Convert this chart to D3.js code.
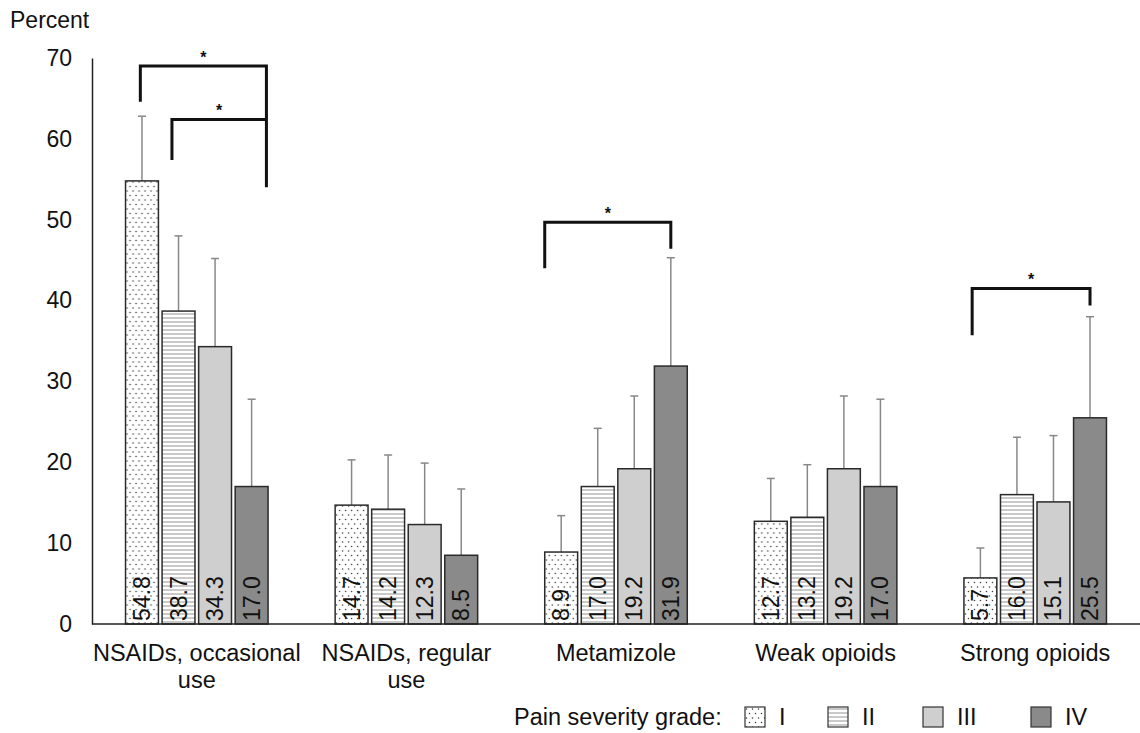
<!DOCTYPE html>
<html>
<head>
<meta charset="utf-8">
<script src="https://cdn.jsdelivr.net/npm/d3@7"></script>
<style>
  body { margin: 0; background: #fff; }
  text { font-family: "Liberation Sans", Arial, sans-serif; fill: #111; }
</style>
</head>
<body>
<div id="chart"></div>
<script>
// chart data
var categories = [["NSAIDs, occasional", "use"], ["NSAIDs, regular", "use"], ["Metamizole"], ["Weak opioids"], ["Strong opioids"]];
var grades = ["I", "II", "III", "IV"];
var values = [
    [54.8, 38.7, 34.3, 17.0],
    [14.7, 14.2, 12.3, 8.5],
    [8.9, 17.0, 19.2, 31.9],
    [12.7, 13.2, 19.2, 17.0],
    [5.7, 16.0, 15.1, 25.5]
];
var upper = [
    [62.8, 48.0, 45.2, 27.8],
    [20.3, 20.9, 19.9, 16.7],
    [13.4, 24.2, 28.2, 45.3],
    [18.0, 19.7, 28.2, 27.8],
    [9.4, 23.1, 23.3, 38.0]
];
var yTicks = [0, 10, 20, 30, 40, 50, 60, 70];
// significance brackets: group, left bar, right bar, left end, top, right end
var brackets = [
    {g: 0, b1: 0, f1: 0.45, b2: 3, f2: 0.95, y1: 64.6, top: 69.0, y2: 54.0},
    {g: 0, b1: 1, f1: 0.3, b2: 3, f2: 0.95, y1: 57.4, top: 62.4, y2: 62.4},
    {g: 2, b1: 0, f1: 0.0, b2: 3, f2: 0.5, y1: 44.0, top: 49.7, y2: 46.4},
    {g: 4, b1: 0, f1: 0.25, b2: 3, f2: 0.5, y1: 35.7, top: 41.5, y2: 39.4}
];

var W = 1140, H = 733;
var margin = {left: 92, top: 58, right: 0};
var y0px = 624;

var svg = d3.select("#chart").append("svg")
    .attr("width", W).attr("height", H);

var defs = svg.append("defs");
var dots = defs.append("pattern").attr("id", "dots")
    .attr("patternUnits", "userSpaceOnUse").attr("width", 6).attr("height", 9);
dots.append("rect").attr("width", 6).attr("height", 9).attr("fill", "#fff");
dots.append("circle").attr("cx", 1.5).attr("cy", 2).attr("r", 0.75).attr("fill", "#333");
dots.append("circle").attr("cx", 4.5).attr("cy", 6.5).attr("r", 0.75).attr("fill", "#333");
var lines = defs.append("pattern").attr("id", "hlines")
    .attr("patternUnits", "userSpaceOnUse").attr("width", 8).attr("height", 4);
lines.append("rect").attr("width", 8).attr("height", 4).attr("fill", "#fff");
lines.append("line").attr("x1", 0).attr("x2", 8).attr("y1", 2).attr("y2", 2)
    .attr("stroke", "#888").attr("stroke-width", 0.9);

var fills = ["url(#dots)", "url(#hlines)", "#cfcfcf", "#8a8a8a"];

var y = d3.scaleLinear().domain([0, 70]).range([y0px, margin.top]);
var x0 = d3.scaleBand().domain(d3.range(categories.length))
    .range([margin.left, W - margin.right]).paddingInner(0.32).paddingOuter(0.16);
var x1 = d3.scaleBand().domain(d3.range(grades.length))
    .range([0, x0.bandwidth()]).paddingInner(0.1);

// y axis
var yAxis = svg.append("g").attr("transform", "translate(" + margin.left + ",0)")
    .call(d3.axisLeft(y).tickValues(yTicks).tickSize(0).tickPadding(20));
yAxis.select(".domain").attr("stroke", "#222").attr("stroke-width", 1.5);
yAxis.selectAll("text").style("font-size", "23px").attr("font-family", "Liberation Sans, Arial, sans-serif").attr("fill", "#111");

svg.append("text").attr("x", 10).attr("y", 28).style("font-size", "23px").text("Percent");

// bars
var groups = svg.selectAll("g.grp").data(values).enter().append("g")
    .attr("class", "grp")
    .attr("transform", function(d, i) { return "translate(" + x0(i) + ",0)"; });

groups.each(function(row, gi) {
    var g = d3.select(this);
    // error bars
    g.selectAll("line.err").data(row).enter().append("line")
        .attr("x1", function(d, i) { return x1(i) + x1.bandwidth() / 2; })
        .attr("x2", function(d, i) { return x1(i) + x1.bandwidth() / 2; })
        .attr("y1", function(d) { return y(d); })
        .attr("y2", function(d, i) { return y(upper[gi][i]); })
        .attr("stroke", "#888").attr("stroke-width", 1.5);
    g.selectAll("line.cap").data(row).enter().append("line")
        .attr("x1", function(d, i) { return x1(i) + x1.bandwidth() / 2 - 4; })
        .attr("x2", function(d, i) { return x1(i) + x1.bandwidth() / 2 + 4; })
        .attr("y1", function(d, i) { return y(upper[gi][i]); })
        .attr("y2", function(d, i) { return y(upper[gi][i]); })
        .attr("stroke", "#888").attr("stroke-width", 1.5);
    g.selectAll("rect").data(row).enter().append("rect")
        .attr("x", function(d, i) { return x1(i); })
        .attr("y", function(d) { return y(d); })
        .attr("width", x1.bandwidth())
        .attr("height", function(d) { return y(0) - y(d); })
        .attr("fill", function(d, i) { return fills[i]; })
        .attr("stroke", "#2a2a2a").attr("stroke-width", 1.5);
    g.selectAll("text.val").data(row).enter().append("text")
        .attr("transform", function(d, i) {
            return "translate(" + (x1(i) + x1.bandwidth() / 2 + 8) + "," + (y(0) - 3) + ") rotate(-90)";
        })
        .style("font-size", "23px")
        .text(function(d) { return d.toFixed(1); });
});

// baseline
svg.append("line").attr("x1", margin.left).attr("x2", W)
    .attr("y1", y(0)).attr("y2", y(0))
    .attr("stroke", "#222").attr("stroke-width", 1.5);

// category labels
svg.selectAll("text.cat").data(categories).enter().append("text")
    .attr("class", "cat")
    .attr("text-anchor", "middle")
    .style("font-size", "23.5px")
    .each(function(d, i) {
        var t = d3.select(this);
        d.forEach(function(s, k) {
            t.append("tspan").attr("x", x0(i) + x0.bandwidth() / 2)
                .attr("y", 661 + k * 27).text(s);
        });
    });

// significance brackets
function bx(g, b, f) { return x0(g) + x1(b) + f * x1.bandwidth(); }
brackets.forEach(function(b) {
    var xl = bx(b.g, b.b1, b.f1), xr = bx(b.g, b.b2, b.f2);
    svg.append("path")
        .attr("d", "M" + xl + "," + y(b.y1) + "V" + y(b.top) + "H" + xr + "V" + y(b.y2))
        .attr("fill", "none").attr("stroke", "#111").attr("stroke-width", 3);
    svg.append("text").attr("x", (xl + xr) / 2).attr("y", y(b.top) - 3)
        .attr("text-anchor", "middle").style("font-size", "16px").style("font-weight", "bold").text("*");
});

// legend
svg.append("text").attr("x", 514).attr("y", 725).style("font-size", "23.5px").text("Pain severity grade:");
var legX = [745, 828, 923, 1031];
var leg = svg.selectAll("g.leg").data(grades).enter().append("g")
    .attr("transform", function(d, i) { return "translate(" + legX[i] + ",707)"; });
leg.append("rect").attr("width", 20).attr("height", 20)
    .attr("fill", function(d, i) { return fills[i]; })
    .attr("stroke", "#333").attr("stroke-width", 1.2);
leg.append("text").attr("x", 34).attr("y", 18).style("font-size", "23.5px")
    .text(function(d) { return d; });
</script>
</body>
</html>
